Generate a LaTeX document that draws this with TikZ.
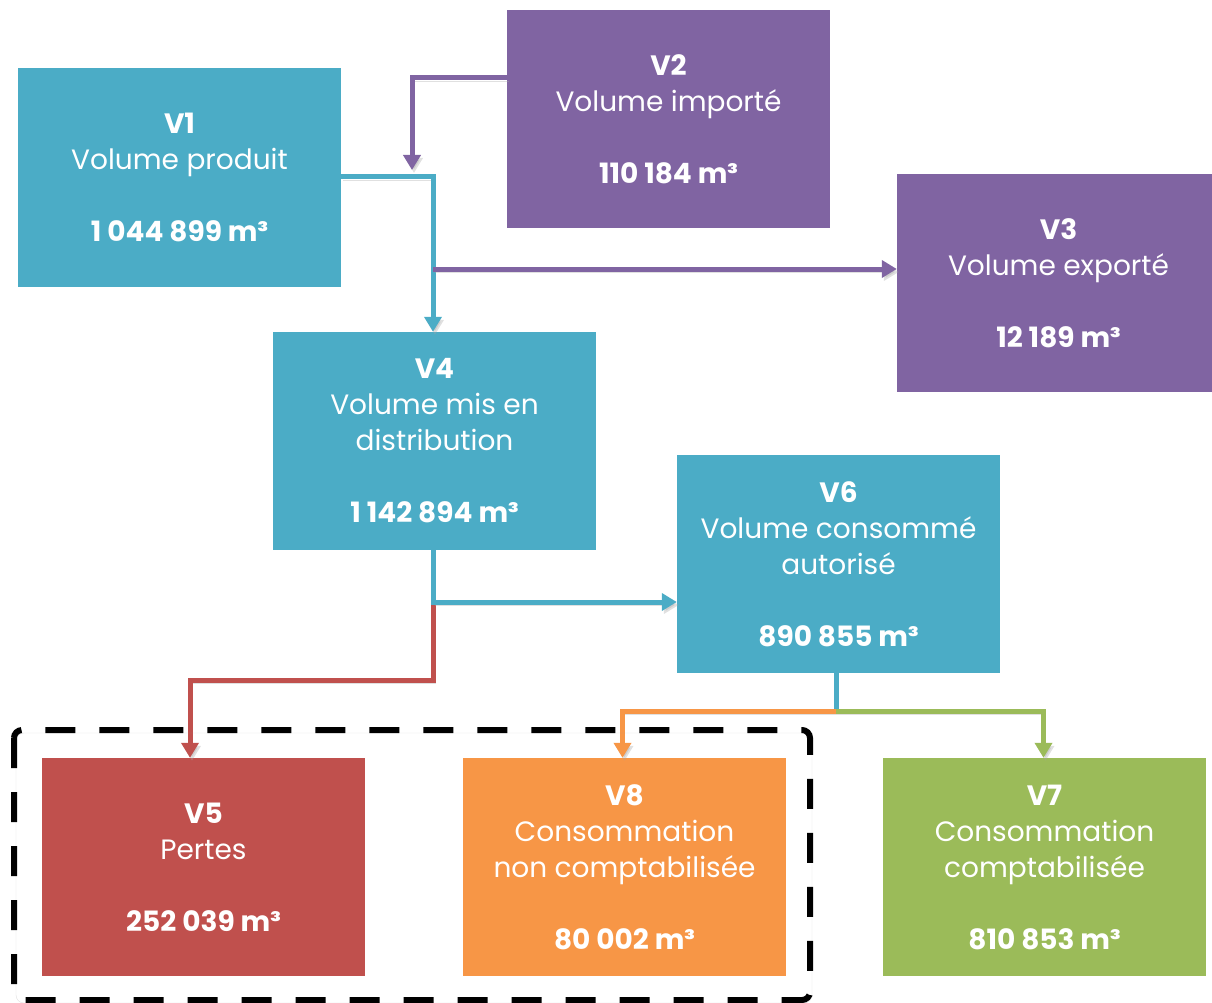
\documentclass[tikz,border=0pt]{standalone}
\usepackage{fontspec}
\setmainfont{Poppins}
\usetikzlibrary{positioning,arrows.meta,calc}
\definecolor{bleu}{HTML}{4BACC6}
\definecolor{violet}{HTML}{8064A2}
\definecolor{rouge}{HTML}{C0504D}
\definecolor{orange}{HTML}{F79646}
\definecolor{vert}{HTML}{9BBB59}
\tikzset{
  boite/.style={fill=#1, text=white, minimum width=323pt, minimum height=218pt,
                inner sep=0pt, align=center, font=\fontsize{28}{36}\selectfont},
  ombre/.style={preaction={draw=black!35, opacity=0.35,
                transform canvas={shift={(2pt,-3pt)}}}},
  trait/.style={draw=#1, line width=5pt, ombre},
  fleche/.style={trait=#1, -{Triangle[width=17pt,length=15pt]}},
}
\begin{document}
\begin{tikzpicture}[x=1pt,y=-1pt]
\useasboundingbox (0,0) rectangle (1212,1003);
% les volumes
\node[boite=bleu]   (v1) at (179.5,177.5) {\textbf{V1}\\Volume produit\\\\\textbf{1 044 899 m³}};
\node[boite=violet] (v2) at (668.5,119)   {\textbf{V2}\\Volume importé\\\\\textbf{110 184 m³}};
\node[boite=violet] (v3) at (1058.5,283)  {\textbf{V3}\\Volume exporté\\\\\textbf{12 189 m³}};
\node[boite=bleu]   (v4) at (434.5,441)   {\textbf{V4}\\Volume mis en\\distribution\\\\\textbf{1 142 894 m³}};
\node[boite=bleu]   (v6) at (838.5,564)   {\textbf{V6}\\Volume consommé\\autorisé\\\\\textbf{890 855 m³}};
\node[boite=rouge]  (v5) at (203.5,867)   {\textbf{V5}\\Pertes\\\\\textbf{252 039 m³}};
\node[boite=orange] (v8) at (624.5,867)   {\textbf{V8}\\Consommation\\non comptabilisée\\\\\textbf{80 002 m³}};
\node[boite=vert]   (v7) at (1044.5,867)  {\textbf{V7}\\Consommation\\comptabilisée\\\\\textbf{810 853 m³}};
% points de jonction
\coordinate (a2) at (412,170);
\coordinate (j1) at (433,177);
\coordinate (j3) at (433,269);
\coordinate (j4) at (433,602);
\coordinate (j5) at (433,680);
\coordinate (j6) at (190,680);
\coordinate (j7) at (836,711);
% les flux
\draw[fleche=violet] ([yshift=41pt]v2.west) -| (a2);
\draw[fleche=bleu] (v1.east |- j1) -- (j1) -- (j1 |- v4.north);
\draw[fleche=violet] (j3) -- (j3 -| v3.west);
\draw[fleche=rouge] (j4) -- (j5) -- (j6) -- (j6 |- v5.north);
\draw[fleche=bleu] (j4 |- v4.south) -- (j4) -- (j4 -| v6.west);
\draw[trait=bleu] (j7 |- v6.south) -- (j7);
\draw[fleche=orange] (j7) -| ([xshift=-2pt]v8.north);
\draw[fleche=vert] (j7) -| ([xshift=-1pt]v7.north);
% cadre en pointilles
\draw[line width=6pt, dash pattern=on 30pt off 24pt, rounded corners=8pt, ombre]
  (14,730) rectangle (810,1000);
\end{tikzpicture}
\end{document}
